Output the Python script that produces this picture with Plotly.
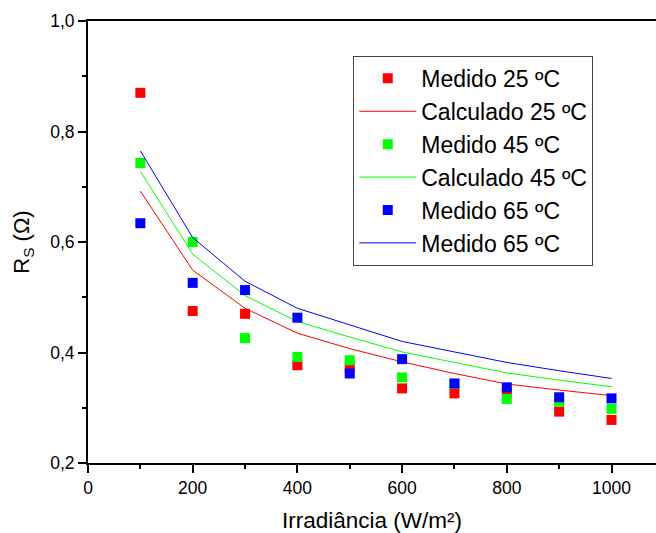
import plotly.graph_objects as go

# Irradiance levels (W/m²)
irradiancia = [100, 200, 300, 400, 500, 600, 700, 800, 900, 1000]

# Series resistance Rs (Ω) – measured points and calculated curves
medido_25 = [0.870, 0.475, 0.470, 0.377, 0.373, 0.335, 0.326, 0.327, 0.293, 0.278]
calc_25 = [0.692, 0.549, 0.480, 0.435, 0.407, 0.383, 0.362, 0.343, 0.332, 0.322]
medido_45 = [0.743, 0.600, 0.426, 0.392, 0.386, 0.355, 0.343, 0.316, 0.311, 0.298]
calc_45 = [0.728, 0.578, 0.503, 0.456, 0.428, 0.401, 0.382, 0.363, 0.350, 0.338]
medido_65 = [0.634, 0.526, 0.513, 0.463, 0.362, 0.388, 0.344, 0.337, 0.319, 0.317]
calc_65 = [0.765, 0.608, 0.529, 0.480, 0.450, 0.420, 0.401, 0.382, 0.367, 0.353]

# Axis tick labels
x_ticks = [0, 200, 400, 600, 800, 1000]
x_labels = ["0", "200", "400", "600", "800", "1000"]
y_ticks = [0.2, 0.4, 0.6, 0.8, 1.0]
y_labels = ["0,2", "0,4", "0,6", "0,8", "1,0"]

RED = "#ff0000"
GREEN = "#00ff00"
BLUE = "#0000ff"
FONT = "Liberation Sans, Arial, sans-serif"

fig = go.Figure()


def medido(y, color, name):
    fig.add_trace(go.Scatter(
        x=irradiancia, y=y, mode="markers", name=name,
        marker=dict(symbol="square", size=10, color=color, line=dict(width=0)),
    ))


def calculado(y, color, name):
    fig.add_trace(go.Scatter(
        x=irradiancia, y=y, mode="lines", name=name,
        line=dict(color=color, width=1),
    ))


medido(medido_25, RED, "Medido 25 ºC")
calculado(calc_25, RED, "Calculado 25 ºC")
medido(medido_45, GREEN, "Medido 45 ºC")
calculado(calc_45, GREEN, "Calculado 45 ºC")
medido(medido_65, BLUE, "Medido 65 ºC")
calculado(calc_65, BLUE, "Medido 65 ºC")

fig.update_layout(
    width=656, height=533,
    margin=dict(l=88, r=0, t=21, b=70),
    paper_bgcolor="white", plot_bgcolor="white",
    font=dict(family=FONT, color="black", size=17.5),
    showlegend=True,
    legend=dict(
        x=0.467, y=0.921, xanchor="left", yanchor="top",
        bgcolor="white", bordercolor="#444444", borderwidth=1,
        font=dict(family=FONT, size=23, color="black"),
        itemwidth=57, tracegroupgap=0,
    ),
    xaxis=dict(
        range=[0, 1085], showgrid=False, zeroline=False,
        showline=True, linecolor="black", linewidth=2, mirror=True,
        ticks="outside", ticklen=8, tickwidth=2, tickcolor="black",
        tickvals=x_ticks, ticktext=x_labels,
        tickfont=dict(size=17.5),
        minor=dict(ticks="outside", ticklen=4, tickwidth=2, tickcolor="black",
                   tickvals=[100, 300, 500, 700, 900], showgrid=False),
        title=dict(text="Irradiância (W/m²)", font=dict(size=22.5), standoff=15),
    ),
    yaxis=dict(
        range=[0.2, 1.0], showgrid=False, zeroline=False,
        showline=True, linecolor="black", linewidth=2,
        ticks="outside", ticklen=8, tickwidth=2, tickcolor="black",
        tickvals=y_ticks, ticktext=y_labels,
        tickfont=dict(size=17.5),
        minor=dict(ticks="outside", ticklen=4, tickwidth=2, tickcolor="black",
                   tickvals=[0.3, 0.5, 0.7, 0.9], showgrid=False),
        title=dict(text="R<sub>S</sub> (Ω)", font=dict(size=22), standoff=14),
    ),
)

fig.write_html("out.html")
